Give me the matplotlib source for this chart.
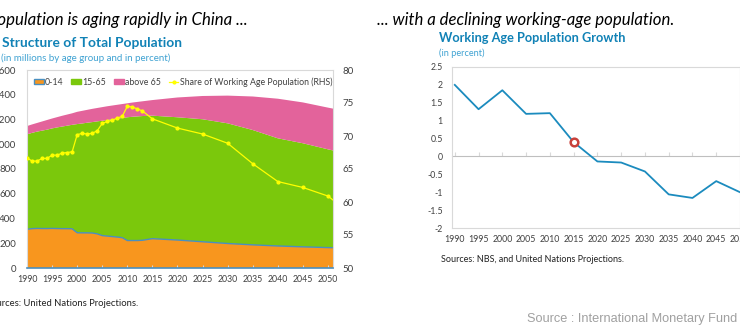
import matplotlib
matplotlib.use("Agg")
import matplotlib.pyplot as plt
from matplotlib.patches import Patch
from matplotlib.lines import Line2D
from matplotlib.ticker import FuncFormatter

# ---- left chart data (millions, percent) ----
years = list(range(1990, 2014)) + [2015, 2020, 2025, 2030, 2035, 2040, 2045, 2050, 2051]
pop_0_14 = [313, 318, 320, 319, 319, 320, 319, 318, 318, 317,
            285, 284, 284, 283, 276, 262, 258, 254, 250, 245,
            222, 222, 222, 224, 237, 226, 212, 198, 187, 178, 171, 165, 164]
pop_15_65 = [767, 774, 782, 791, 799, 808, 817, 825, 832, 840,
             878, 884, 890, 896, 909, 928, 938, 948, 957, 967,
             996, 1000, 1003, 1004, 994, 992, 990, 971, 928, 870, 837, 794, 786]
pop_65_plus = [67, 68, 70, 74, 78, 80, 83, 87, 90, 93,
               99, 102, 104, 107, 108, 110, 111, 111, 112, 113,
               113, 115, 117, 119, 126, 160, 188, 224, 271, 320, 330, 337, 338]
share_working = [66.7, 66.2, 66.2, 66.6, 66.6, 67.1, 67.1, 67.4, 67.5, 67.6,
                 70.2, 70.4, 70.3, 70.4, 70.8, 71.9, 72.2, 72.4, 72.7, 73.0,
                 74.5, 74.4, 74.1, 73.8, 72.6, 71.2, 70.3, 68.9, 65.8, 63.1, 62.2, 60.9, 60.3]
legend_labels = ["0-14", "15-65", "above 65", "Share of Working Age Population (RHS)"]

# ---- right chart data (percent) ----
growth_years = list(range(1990, 2055, 5))
growth = [2.0, 1.32, 1.85, 1.19, 1.21, 0.40, -0.14, -0.17, -0.42, -1.06, -1.16, -0.69, -1.0]
highlight_year = 2015

ORANGE = "#F8961E"
GREEN = "#7BC80C"
PINK = "#E3639B"
EDGE_BLUE = "#4A8FC0"
TITLE_BLUE = "#1182B6"
SUB_BLUE = "#3FA2D2"
TICK = "#404040"
FRAME = "#D9D9D9"

plt.rcParams["font.family"] = ["Lato", "DejaVu Sans"]

W, H = 740, 328
fig = plt.figure(figsize=(W / 100, H / 100), dpi=100)


def box(x0, y0, x1, y1):
    return [x0 / W, 1 - y1 / H, (x1 - x0) / W, (y1 - y0) / H]


# ---------------- left: structure of population ----------------
ax = fig.add_axes(box(27, 70, 333, 268))
ax.stackplot(years, pop_0_14, pop_15_65, pop_65_plus,
             colors=[ORANGE, GREEN, PINK], linewidth=0)
ax.plot(years, pop_0_14, color=EDGE_BLUE, lw=1.0)
ax.set_xlim(1990, 2051)
ax.set_ylim(0, 1600)
ax.set_yticks(range(0, 1601, 200))
ax.set_xticks(range(1990, 2051, 5))
ax.tick_params(axis="y", length=0, pad=8, labelsize=7, labelcolor=TICK)
ax.tick_params(axis="x", direction="in", length=2, color=FRAME, pad=5,
               labelsize=6.3, labelcolor=TICK)
for s in ax.spines.values():
    s.set_color(FRAME)
    s.set_linewidth(0.8)
ax.spines["bottom"].set_color(EDGE_BLUE)
ax.spines["bottom"].set_linewidth(1.2)

ax2 = ax.twinx()
ax2.plot(years, share_working, color="#FFFF00", lw=0.9, marker="o", ms=2.0,
         markevery=list(range(len(years) - 1)))
ax2.set_ylim(50, 80)
ax2.set_yticks(range(50, 81, 5))
ax2.tick_params(axis="y", length=0, pad=7, labelsize=7, labelcolor=TICK)
for s in ax2.spines.values():
    s.set_visible(False)

handles = [Patch(facecolor=ORANGE, edgecolor=EDGE_BLUE, lw=1),
           Patch(facecolor=GREEN, edgecolor=GREEN),
           Patch(facecolor=PINK, edgecolor=PINK),
           Line2D([], [], color="#FFFF00", lw=0.9, marker="o", ms=2.0)]
ax2.legend(handles, legend_labels, loc="upper left", bbox_to_anchor=(0.0, 1.0),
           ncol=4, frameon=False, fontsize=6.3, handlelength=1.1, handleheight=0.55,
           handletextpad=0.15, columnspacing=0.9, borderaxespad=0.4,
           labelcolor=TICK)

# ---------------- right: working age growth ----------------
axr = fig.add_axes(box(451.7, 67, 740, 228))
axr.plot(growth_years, growth, color="#1B8BBE", lw=1.3)
hi = growth_years.index(highlight_year)
axr.plot([growth_years[hi]], [growth[hi]], "o", mfc="white", mec="#C8413B",
         ms=5.5, mew=1.8)
axr.set_xlim(1989.35, 2046.55)
axr.set_ylim(-2, 2.5)
axr.set_yticks([2.5, 2, 1.5, 1, 0.5, 0, -0.5, -1, -1.5, -2])
axr.yaxis.set_major_formatter(FuncFormatter(lambda v, p: f"{v:g}"))
axr.set_xticks(growth_years)
axr.tick_params(axis="y", length=0, pad=6.5, labelsize=6.3, labelcolor=TICK)
axr.tick_params(axis="x", length=0, pad=5, labelsize=6.3, labelcolor=TICK)
for s in axr.spines.values():
    s.set_color(FRAME)
    s.set_linewidth(0.8)

zero = axr.secondary_xaxis(2 / 4.5)
zero.set_xticks(growth_years)
zero.set_xticklabels([])
zero.tick_params(direction="in", length=3, color=FRAME)
zero.spines["bottom"].set_color("#BFBFBF")
zero.spines["top"].set_color("#BFBFBF")

# ---------------- texts ----------------
fig.text(-12 / W, 1 - 20 / H, "Population is aging rapidly in China ...",
         fontsize=12.1, style="italic", va="center", ha="left", color="black")
fig.text(377 / W, 1 - 20 / H, "... with a declining working-age population.",
         fontsize=12.1, style="italic", va="center", ha="left", color="black")
fig.text(2 / W, 1 - 43 / H, "Structure of Total Population",
         fontsize=9.9, weight="bold", va="center", ha="left", color=TITLE_BLUE)
fig.text(1 / W, 1 - 58 / H, "(in millions by age group and in percent)",
         fontsize=7.0, va="center", ha="left", color=SUB_BLUE)
fig.text(439 / W, 1 - 38 / H, "Working Age Population Growth",
         fontsize=9.2, weight="bold", va="center", ha="left", color=TITLE_BLUE)
fig.text(439 / W, 1 - 53 / H, "(in percent)",
         fontsize=6.6, va="center", ha="left", color=SUB_BLUE)
fig.text(-14 / W, 1 - 303 / H, "Sources: United Nations Projections.",
         fontsize=6.8, va="center", ha="left", color="#222222")
fig.text(441 / W, 1 - 259 / H, "Sources: NBS, and United Nations Projections.",
         fontsize=6.5, va="center", ha="left", color="#222222")
fig.text(737 / W, 1 - 319 / H, "Source : International Monetary Fund",
         family="Liberation Sans", fontsize=9.2, va="center", ha="right",
         color="#A0A0A0")

fig.savefig("out.png", dpi=100)
